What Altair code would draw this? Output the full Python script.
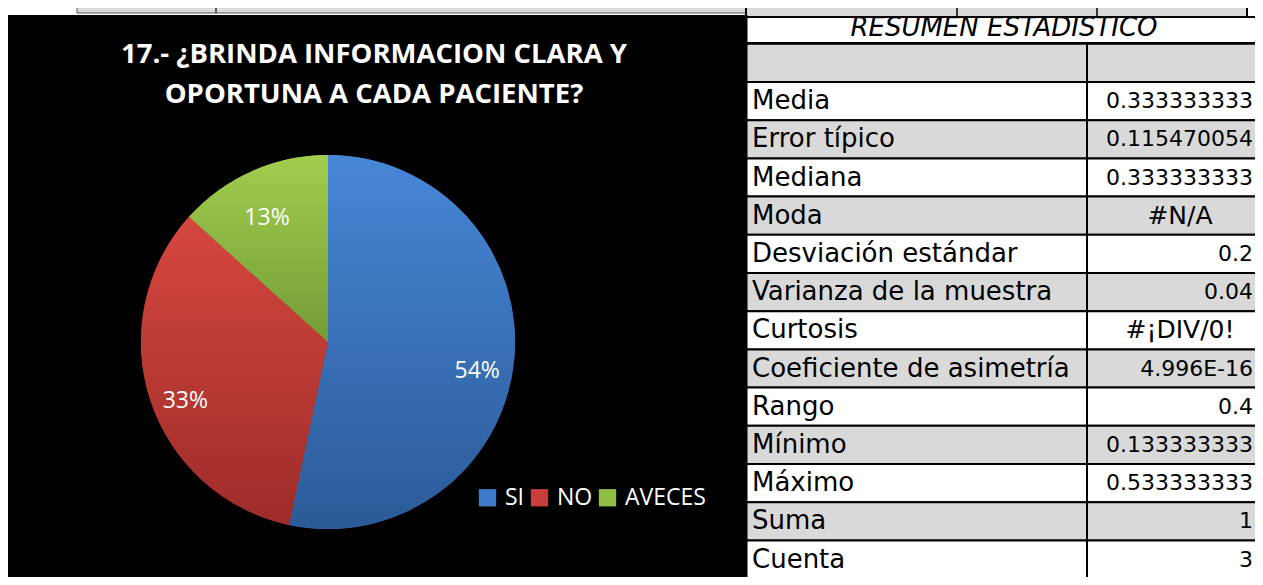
import altair as alt
import pandas as pd

# ---------------- data ----------------
categorias = ["SI", "NO", "AVECES"]
proporciones = [0.533333333, 0.333333333, 0.133333333]
etiquetas_pct = ["54%", "33%", "13%"]

colores_leyenda = ["#3E7CCB", "#C93D3A", "#8FBD45"]
grad_sup = ["#4687D6", "#D5473F", "#A2CD4E"]
grad_inf = ["#2C5A98", "#9E2C29", "#729D37"]

titulo = ["17.- ¿BRINDA INFORMACION CLARA Y", "OPORTUNA A CADA PACIENTE?"]

tabla_titulo = "RESUMEN ESTADISTICO"
tabla_etiquetas = ["", "Media", "Error típico", "Mediana", "Moda",
                   "Desviación estándar", "Varianza de la muestra", "Curtosis",
                   "Coeficiente de asimetría", "Rango", "Mínimo", "Máximo",
                   "Suma", "Cuenta"]
tabla_valores = ["", "0.333333333", "0.115470054", "0.333333333", "#N/A",
                 "0.2", "0.04", "#¡DIV/0!", "4.996E-16", "0.4",
                 "0.133333333", "0.533333333", "1", "3"]

# ---------------- frames ----------------
pie_df = pd.DataFrame({
    "categoria": categorias,
    "valor": proporciones,
    "etiqueta": etiquetas_pct,
    "orden": list(range(len(categorias))),
})
tabla_df = pd.DataFrame({
    "etiqueta": tabla_etiquetas,
    "valor": tabla_valores,
    "fila": [i - 1 for i in range(len(tabla_etiquetas))],
})
uno = pd.DataFrame({"k": [0]})

W, H = 1247, 569
CX, CY, R = 320, 334, 187
theta_scale = alt.Scale(domain=[0, 1], range=[0, 6.283185307179586])
y_scale = alt.Scale(domain=[0, 13], range=[74, 570.6], nice=False, zero=False)

# ---------------- background / frame pieces ----------------
fondo_negro = alt.Chart(uno).mark_rect(fill="black").encode(
    x=alt.value(0), x2=alt.value(739), y=alt.value(7), y2=alt.value(H + 10))

franja_izq = alt.Chart(uno).mark_rect(fill="#D9D9D9", stroke="#555555", strokeWidth=1).encode(
    x=alt.value(69), x2=alt.value(738), y=alt.value(-8), y2=alt.value(5))
linea_izq = alt.Chart(uno).mark_rule(color="#333333", strokeWidth=1.5).encode(
    x=alt.value(208), y=alt.value(-8), y2=alt.value(5))

# ---------------- table ----------------
tabla_base = alt.Chart(tabla_df).transform_calculate(
    fin="datum.fila + 1",
    centro="datum.fila + 0.5",
    fondo="abs(datum.fila % 2) == 1 ? '#D9D9D9' : '#FFFFFF'",
)
celda_izq = tabla_base.mark_rect(stroke="black", strokeWidth=2).encode(
    x=alt.value(738), x2=alt.value(1079),
    y=alt.Y("fila:Q", scale=y_scale, axis=None), y2="fin:Q",
    fill=alt.Fill("fondo:N", scale=None))
celda_der = tabla_base.mark_rect(stroke="black", strokeWidth=2).encode(
    x=alt.value(1079), x2=alt.value(1270),
    y=alt.Y("fila:Q", scale=y_scale, axis=None), y2="fin:Q",
    fill=alt.Fill("fondo:N", scale=None))
txt_etiq = tabla_base.mark_text(align="left", baseline="middle", font="DejaVu Sans",
                                fontSize=26, color="black").encode(
    x=alt.value(744), y=alt.Y("centro:Q", scale=y_scale, axis=None), text="etiqueta:N")
txt_num = tabla_base.transform_filter(
    "datum.valor != '' && indexof(datum.valor, '#') != 0"
).mark_text(align="right", baseline="middle", font="DejaVu Sans", fontSize=22,
            color="black").encode(
    x=alt.value(1245), y=alt.Y("centro:Q", scale=y_scale, axis=None), text="valor:N")
txt_err = tabla_base.transform_filter(
    "indexof(datum.valor, '#') == 0"
).mark_text(align="center", baseline="middle", font="DejaVu Sans", fontSize=25,
            color="black").encode(
    x=alt.value(1172), y=alt.Y("centro:Q", scale=y_scale, axis=None), text="valor:N")

cab_celda = alt.Chart(uno).mark_rect(fill="white", stroke="black", strokeWidth=2).encode(
    x=alt.value(738), x2=alt.value(1270), y=alt.value(9), y2=alt.value(35))
cab_txt = alt.Chart(uno).mark_text(align="center", baseline="middle", font="DejaVu Sans",
                                   fontSize=26, fontStyle="italic", color="black").encode(
    x=alt.value(996), y=alt.value(20), text=alt.value(tabla_titulo))
caja_sup = alt.Chart(uno).mark_rect(fill="#D9D9D9", stroke="black", strokeWidth=2).encode(
    x=alt.value(738), x2=alt.value(1239), y=alt.value(-6), y2=alt.value(9))
caja_l1 = alt.Chart(uno).mark_rule(color="black", strokeWidth=1.5).encode(
    x=alt.value(949), y=alt.value(-6), y2=alt.value(9))
caja_l2 = alt.Chart(uno).mark_rule(color="black", strokeWidth=1.5).encode(
    x=alt.value(1089), y=alt.value(-6), y2=alt.value(9))
borde_negro = alt.Chart(uno).mark_rule(color="black", strokeWidth=3).encode(
    x=alt.value(738), y=alt.value(7), y2=alt.value(H + 10))

# ---------------- pie ----------------
pie_base = alt.Chart(pie_df).transform_joinaggregate(
    total="sum(valor)"
).transform_window(
    acum="sum(valor)", sort=[alt.SortField("orden", order="ascending")], frame=[None, 0]
).transform_calculate(
    t0="(datum.acum - datum.valor) / datum.total",
    t1="datum.acum / datum.total",
    tm="(datum.acum - datum.valor / 2) / datum.total",
)

arc_leyenda = pie_base.mark_arc(outerRadius=R).encode(
    theta=alt.Theta("t0:Q", scale=theta_scale, stack=False),
    theta2="t1:Q",
    x=alt.value(CX), y=alt.value(CY),
    color=alt.Color("categoria:N",
                    scale=alt.Scale(domain=categorias, range=colores_leyenda),
                    legend=alt.Legend(orient="none", legendX=468, legendY=478,
                                      direction="horizontal", title=None,
                                      symbolType="square", symbolSize=300,
                                      symbolStrokeWidth=0, labelColor="white",
                                      labelFont="Open Sans", labelFontSize=23,
                                      labelOffset=6, columnPadding=3, padding=0)),
)

capas_grad = []
for cat, c_sup, c_inf in zip(categorias, grad_sup, grad_inf):
    capas_grad.append(
        pie_base.transform_filter(alt.datum.categoria == cat).mark_arc(
            outerRadius=R,
            fill=alt.Gradient(gradient="linear", x1=0, y1=0, x2=0, y2=1,
                              stops=[alt.GradientStop(color=c_sup, offset=0),
                                     alt.GradientStop(color=c_inf, offset=1)]),
        ).encode(
            theta=alt.Theta("t0:Q", scale=theta_scale, stack=False),
            theta2="t1:Q",
            x=alt.value(CX), y=alt.value(CY),
        )
    )

pie_txt = pie_base.mark_text(radius=150, font="Open Sans", fontSize=23, color="white",
                             baseline="middle", align="center", dy=13).encode(
    theta=alt.Theta("tm:Q", scale=theta_scale, stack=False),
    x=alt.value(CX), y=alt.value(CY),
    text="etiqueta:N",
)

titulo_txt = alt.Chart(uno).mark_text(align="center", baseline="middle", font="Open Sans",
                                      fontSize=27.5, fontWeight="bold", color="white",
                                      lineHeight=40).encode(
    x=alt.value(366), y=alt.value(47), text=alt.value(titulo))

chart = alt.layer(
    fondo_negro, franja_izq, linea_izq,
    celda_izq, celda_der, txt_etiq, txt_num, txt_err,
    cab_celda, cab_txt, caja_sup, caja_l1, caja_l2, borde_negro,
    arc_leyenda, *capas_grad, pie_txt, titulo_txt,
).properties(
    width=W, height=H,
    autosize=alt.AutoSizeParams(type="none"),
    padding=0,
    background="white",
).configure_view(stroke=None)

chart.save("out.html", embed_options={"renderer": "svg", "actions": False})
